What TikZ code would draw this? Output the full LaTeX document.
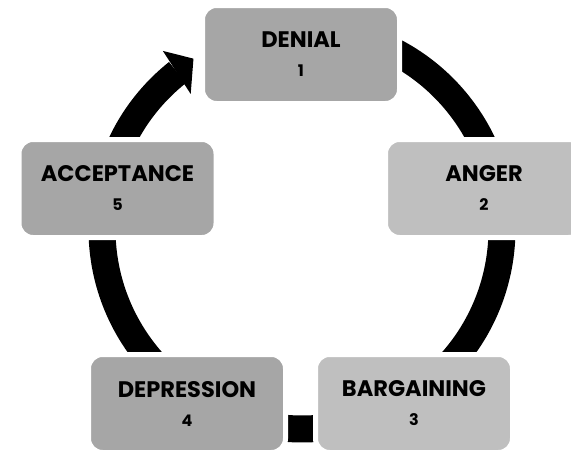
\documentclass[tikz,border=0pt]{standalone}
\usepackage{fontspec}
\setmainfont{Poppins}
\usepackage{xcolor}
\usepackage{tikz}

\begin{document}
\begin{tikzpicture}[x={(1pt,0pt)},y={(0pt,-1pt)},
  every node/.style={rectangle, rounded corners=14pt, draw=white, line width=5pt,
    minimum width=197pt, minimum height=98pt, inner sep=0pt, outer sep=0pt, align=center,
    font=\fontsize{22.5}{29}\selectfont\bfseries},
  darkbox/.style={fill={rgb,255:red,166;green,166;blue,166}},
  lightbox/.style={fill={rgb,255:red,191;green,191;blue,191}}]
\useasboundingbox (0,0) rectangle (571,450);
\coordinate (ring) at (302,229);
% ring and arrow head
\draw[line width=27pt] ([shift={(128.5:200pt)}]ring) arc[start angle=128.5, end angle=468, radius=200pt];
\fill ([shift={(128:226pt)}]ring) -- ([shift={(122.5:202pt)}]ring) -- ([shift={(129.5:175pt)}]ring) -- cycle;
% stages
\node[darkbox] (denial) at (301,54.5) {DENIAL\\{\fontsize{16}{29}\selectfont 1}};
\node[lightbox] (anger) at (484,188.5) {ANGER\\{\fontsize{16}{29}\selectfont 2}};
\node[lightbox] (bargaining) at (414,403.5) {BARGAINING\\{\fontsize{16}{29}\selectfont 3}};
\node[darkbox] (depression) at (187,403.5) {DEPRESSION\\{\fontsize{16}{29}\selectfont 4}};
\node[darkbox] (acceptance) at (117.5,188.5) {ACCEPTANCE\\{\fontsize{16}{29}\selectfont 5}};
\end{tikzpicture}
\end{document}
